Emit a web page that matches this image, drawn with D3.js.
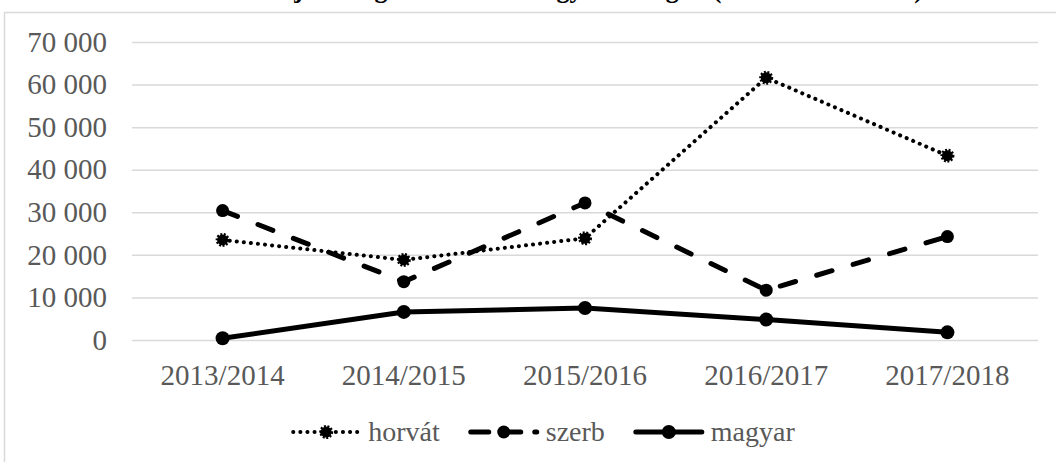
<!DOCTYPE html>
<html>
<head>
<meta charset="utf-8">
<script src="https://cdn.jsdelivr.net/npm/d3@7"></script>
<style>
  html, body { margin: 0; padding: 0; background: #fff; }
  svg { display: block; }
  text { font-family: "Liberation Serif", "Times New Roman", serif; }
</style>
</head>
<body>
<div id="chart"></div>
<script>
// data
const categories = ["2013/2014", "2014/2015", "2015/2016", "2016/2017", "2017/2018"]
const horvat = [23500, 18800, 23900, 61600, 43300]
const szerb = [30400, 13700, 32200, 11700, 24300]
const magyar = [400, 6600, 7500, 4800, 1800]
const yTicks = [0, 10000, 20000, 30000, 40000, 50000, 60000, 70000]
const seriesNames = ["horvát", "szerb", "magyar"]
const title = "Az ösztöndíjas hallgatók száma Magyarországon (2013–2018 között)"

const width = 1056, height = 462
const margin = {top: 42, right: 18, bottom: 122, left: 132}
const grey = "#595959", gridColor = "#d9d9d9"
const serif = "'Liberation Serif', 'Times New Roman', serif"

const huFormat = d3.formatLocale({decimal: ",", thousands: " ", grouping: [3], currency: ["", ""]}).format(",d")

const svg = d3.select("#chart").append("svg")
    .attr("width", width)
    .attr("height", height)
    .attr("font-family", serif)

// chart area border (runs off the right and bottom of the picture)
svg.append("rect")
    .attr("x", 4.5).attr("y", 12.5)
    .attr("width", 1080).attr("height", 500)
    .attr("fill", "none")
    .attr("stroke", gridColor)
    .attr("stroke-width", 1.5)

// title, mostly cut off by the top edge as in the source
svg.append("text")
    .attr("x", 544).attr("y", -2)
    .attr("text-anchor", "middle")
    .attr("font-weight", "bold")
    .attr("font-size", 26)
    .text(title)

const x = d3.scaleBand()
    .domain(categories)
    .range([margin.left, width - margin.right])
    .padding(0)
const y = d3.scaleLinear()
    .domain([0, 70000])
    .range([height - margin.bottom, margin.top])
const cx = d => x(d) + x.bandwidth() / 2

// y axis with gridlines
svg.append("g")
    .attr("transform", `translate(${margin.left},0)`)
    .call(d3.axisLeft(y).tickValues(yTicks).tickFormat(huFormat)
      .tickSize(-(width - margin.right - margin.left)).tickPadding(25))
    .attr("font-family", serif)
    .call(g => g.select(".domain").remove())
    .call(g => g.selectAll(".tick line").attr("stroke", gridColor).attr("stroke-width", 1.5))
    .call(g => g.selectAll(".tick text").attr("fill", grey).attr("font-size", 29))

// x axis labels
svg.append("g")
    .attr("transform", `translate(0,${y(0)})`)
    .call(d3.axisBottom(x).tickSize(0).tickPadding(24))
    .attr("font-family", serif)
    .call(g => g.select(".domain").remove())
    .call(g => g.selectAll(".tick text").attr("fill", grey).attr("font-size", 29))

const line = d3.line()
    .x((d, i) => cx(categories[i]))
    .y(d => y(d))

const styles = {
  "horvát": {width: 4, dash: "0.1 7", r: 5.5, fuzzy: true},
  "szerb": {width: 5, dash: "16 22", r: 6.5, fuzzy: false},
  "magyar": {width: 5, dash: null, r: 7, fuzzy: false}
}
const seriesData = {"horvát": horvat, "szerb": szerb, "magyar": magyar}

function marker(sel, s) {
  sel.attr("r", s.r).attr("fill", "#000")
  if (s.fuzzy) sel.attr("stroke", "#000").attr("stroke-width", 3).attr("stroke-dasharray", "1.8 1.5")
}

seriesNames.forEach(name => {
  const s = styles[name]
  const vals = seriesData[name]
  svg.append("path")
      .datum(vals)
      .attr("fill", "none")
      .attr("stroke", "#000")
      .attr("stroke-width", s.width)
      .attr("stroke-linecap", "round")
      .attr("stroke-linejoin", "round")
      .attr("stroke-dasharray", s.dash)
      .attr("d", line)
  svg.append("g").selectAll("circle")
      .data(vals)
      .join("circle")
      .attr("cx", (d, i) => cx(categories[i]))
      .attr("cy", d => y(d))
      .call(marker, s)
})

// legend
const legendY = 432, lineLen = 66, textGap = 9, itemGap = 31
const legend = svg.append("g")
const items = seriesNames.map(name => {
  const g = legend.append("g")
  const s = styles[name]
  g.append("line")
      .attr("x1", 0).attr("x2", lineLen)
      .attr("y1", 0).attr("y2", 0)
      .attr("stroke", "#000")
      .attr("stroke-width", s.width)
      .attr("stroke-linecap", "round")
      .attr("stroke-dasharray", name === "szerb" ? "18 14" : s.dash)
  g.append("circle").attr("cx", lineLen / 2).attr("cy", 0).call(marker, s)
  const t = g.append("text")
      .attr("x", lineLen + textGap)
      .attr("dy", "0.32em")
      .attr("fill", grey)
      .attr("font-size", 28)
      .text(name)
  return {g, w: lineLen + textGap + t.node().getComputedTextLength()}
})
const total = d3.sum(items, d => d.w) + itemGap * (items.length - 1)
let pos = 544 - total / 2
items.forEach(it => {
  it.g.attr("transform", `translate(${pos},${legendY})`)
  pos += it.w + itemGap
})
</script>
</body>
</html>
